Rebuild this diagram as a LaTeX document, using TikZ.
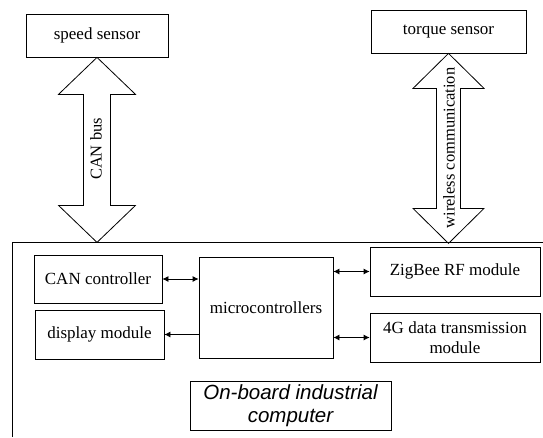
\documentclass[tikz,border=0pt]{standalone}
\usepackage{fontspec}
\setmainfont{Liberation Serif}
\newfontfamily\arialfont{Liberation Sans}
\usetikzlibrary{positioning, arrows.meta}
\tikzset{
every picture/.style={x=1pt, y=-1pt, line width=0.8pt},
block/.style={draw, rectangle, inner sep=1pt, align=center, font=\fontsize{17}{20}\selectfont},
label/.style={rotate=90, inner sep=0pt, font=\fontsize{16.5}{20}\selectfont},
link/.style={{Latex[length=6pt,width=6pt]}-{Latex[length=6pt,width=6pt]}, line width=0.8pt},
}

\begin{document}
\begin{tikzpicture}
    \useasboundingbox (0,0) rectangle (543,437);

    %sensors
    \node[block, minimum width=142, minimum height=43] (speed)  at (97,35.5)  {speed sensor};
    \node[block, minimum width=155, minimum height=43] (torque) at (448.5,31.5) {torque sensor};

    %on-board computer frame
    \coordinate (frameBL) at (12,437);
    \coordinate (frameTL) at (12,242);
    \coordinate (frameTR) at (543,242);
    \draw (frameBL)--(frameTL)--(frameTR);

    %modules inside the frame
    \node[block, minimum width=128, minimum height=48]  (can)     at (98,279)     {CAN controller};
    \node[block, minimum width=129, minimum height=49]  (display) at (99.5,334.5)  {display module};
    \node[block, minimum width=134, minimum height=101] (micro)   at (266,307.5)   {microcontrollers};
    \node[block, minimum width=170, minimum height=49]  (zigbee)  at (455,271.5)   {ZigBee RF module};
    \node[block, minimum width=170, minimum height=49]  (fourg)   at (455,337.5)   {4G data transmission\\module};
    \node[block, minimum width=201, minimum height=49, font=\arialfont\itshape\fontsize{20.5}{23}\selectfont]
        (board) at (290.5,405.5) {On-board industrial\\computer};

    %wide double arrows
    \draw (speed.south) -- ++(38.5,37) -- ++(-25,0) -- ++(0,111) -- ++(25,0) -- ++(-38.5,37)
        -- ++(-38.5,-37) -- ++(25,0) -- ++(0,-111) -- ++(-25,0) -- cycle;
    \draw (torque.south) -- ++(35.5,35) -- ++(-23.5,0) -- ++(0,120) -- ++(23.5,0) -- ++(-35.5,35)
        -- ++(-35.5,-35) -- ++(23.5,0) -- ++(0,-120) -- ++(-23.5,0) -- cycle;
    \node[label] (canbus)   at (96,149)  {CAN bus};
    \node[label] (wireless) at (449,148) {wireless communication};

    %small arrows
    \draw[link] (can.east) -- (can.east -| micro.west);
    \draw[link, -{Latex[length=6pt,width=6pt]}] (display.east -| micro.west) -- (display.east);
    \draw[link] (micro.east |- zigbee.west) -- (zigbee.west);
    \draw[link] (micro.east |- fourg.west) -- (fourg.west);
\end{tikzpicture}
\end{document}
